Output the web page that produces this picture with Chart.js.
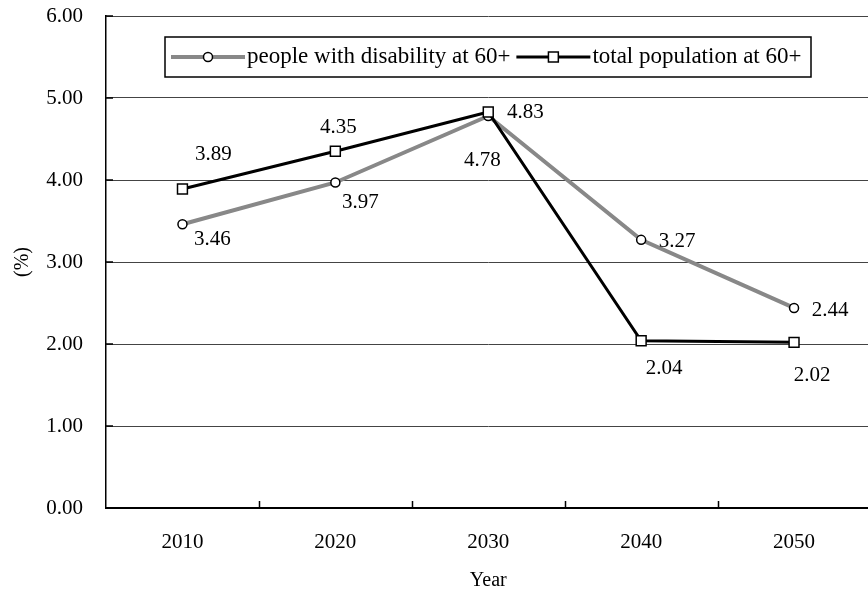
<!DOCTYPE html>
<html lang="en">
<head>
<meta charset="UTF-8">
<title>Growth rate of population aged 60+</title>
<script src="https://cdn.jsdelivr.net/npm/chart.js"></script>
<style>
    html, body { margin: 0; padding: 0; background: #fff; overflow: hidden; }
    #wrap { width: 879px; height: 591px; }
</style>
</head>
<body>
<div id="wrap"><canvas id="rateChart" width="879" height="591"></canvas></div>
<script>
const years = ['2010', '2020', '2030', '2040', '2050'];
const disabilityRates = [3.46, 3.97, 4.78, 3.27, 2.44];
const totalRates = [3.89, 4.35, 4.83, 2.04, 2.02];
const seriesNames = ['people with disability at 60+', 'total population at 60+'];
const yMin = 0, yMax = 6, yStep = 1;

const serif = '"Liberation Serif", "Times New Roman", serif';
Chart.defaults.font.family = serif;
Chart.defaults.font.size = 21;
Chart.defaults.color = '#000';

// small tick marks pointing into the plot area
const innerTicks = {
    id: 'innerTicks',
    beforeDatasetsDraw(chart) {
        const {ctx, chartArea: area, scales: {x, y}} = chart;
        ctx.save();
        ctx.strokeStyle = '#000';
        ctx.lineWidth = 1.5;
        ctx.beginPath();
        for (let i = 1; i < years.length; i++) {
            const px = Math.round((x.getPixelForValue(i - 1) + x.getPixelForValue(i)) / 2) + 0.5;
            ctx.moveTo(px, area.bottom);
            ctx.lineTo(px, area.bottom - 7);
        }
        y.ticks.forEach(t => {
            const py = y.getPixelForValue(t.value);
            ctx.moveTo(area.left, py);
            ctx.lineTo(area.left + 7, py);
        });
        ctx.stroke();
        ctx.restore();
    }
};

// value labels next to each point, offsets per point
const pointLabels = {
    id: 'pointLabels',
    afterDatasetsDraw(chart, args, opts) {
        const ctx = chart.ctx;
        ctx.save();
        ctx.font = `${opts.size}px ${serif}`;
        ctx.fillStyle = '#000';
        ctx.textAlign = 'center';
        ctx.textBaseline = 'middle';
        chart.data.datasets.forEach((ds, di) => {
            const meta = chart.getDatasetMeta(di);
            meta.data.forEach((pt, i) => {
                const [dx, dy] = opts.offsets[di][i];
                ctx.fillText(ds.data[i].toFixed(2), pt.x + dx, pt.y + dy);
            });
        });
        ctx.restore();
    }
};

// boxed legend sitting inside the plot area
const boxLegend = {
    id: 'boxLegend',
    afterDraw(chart, args, opts) {
        const {ctx, chartArea: area} = chart;
        const bx = area.left + opts.x, by = area.top + opts.y;
        ctx.save();
        ctx.fillStyle = '#fff';
        ctx.fillRect(bx, by, opts.width, opts.height);
        ctx.strokeStyle = '#000';
        ctx.lineWidth = 1.5;
        ctx.strokeRect(bx, by, opts.width, opts.height);
        ctx.font = `${opts.size}px ${serif}`;
        ctx.textBaseline = 'middle';
        const cy = by + opts.height / 2;
        let cx = bx + 6;
        chart.data.datasets.forEach(ds => {
            ctx.strokeStyle = ds.borderColor;
            ctx.lineWidth = ds.borderWidth;
            ctx.beginPath();
            ctx.moveTo(cx, cy);
            ctx.lineTo(cx + opts.sample, cy);
            ctx.stroke();
            ctx.fillStyle = ds.pointBackgroundColor;
            ctx.strokeStyle = ds.pointBorderColor;
            ctx.lineWidth = ds.pointBorderWidth;
            Chart.helpers.drawPoint(ctx, {
                pointStyle: ds.pointStyle, radius: ds.pointRadius,
                borderWidth: ds.pointBorderWidth, rotation: 0
            }, cx + opts.sample / 2, cy);
            ctx.fillStyle = '#000';
            ctx.fillText(ds.label, cx + opts.sample + 2, cy);
            cx += opts.sample + 2 + ctx.measureText(ds.label).width + 6;
        });
        ctx.restore();
    }
};

new Chart(document.getElementById('rateChart'), {
    type: 'line',
    data: {
        labels: years,
        datasets: [{
            label: seriesNames[0],
            data: disabilityRates,
            order: 1,
            borderColor: '#888',
            borderWidth: 4,
            tension: 0,
            fill: false,
            pointStyle: 'circle',
            pointRadius: 4.5,
            pointBorderWidth: 1.5,
            pointBorderColor: '#000',
            pointBackgroundColor: '#fff'
        }, {
            label: seriesNames[1],
            data: totalRates,
            order: 0,
            borderColor: '#000',
            borderWidth: 3,
            tension: 0,
            fill: false,
            pointStyle: 'rect',
            pointRadius: 7,
            pointBorderWidth: 1.5,
            pointBorderColor: '#000',
            pointBackgroundColor: '#fff'
        }]
    },
    options: {
        responsive: false,
        animation: false,
        layout: {padding: {top: 16, right: 0, bottom: 0, left: 0}},
        scales: {
            x: {
                offset: true,
                afterFit(scale) { scale.height = 83; },
                grid: {display: false, drawTicks: false},
                border: {display: true, color: '#000', width: 2},
                ticks: {padding: 22},
                title: {
                    display: true, text: 'Year',
                    font: {size: 20, lineHeight: 1},
                    padding: {top: 12, bottom: 0}
                }
            },
            y: {
                min: yMin,
                max: yMax,
                afterFit(scale) {
                    scale.width = 106;
                    scale.paddingTop = 0;
                    scale.paddingBottom = 0;
                },
                grid: {color: '#444', lineWidth: 1, drawTicks: false},
                border: {display: true, color: '#000', width: 1.5},
                ticks: {stepSize: yStep, padding: 23, callback: v => v.toFixed(2)},
                title: {
                    display: true, text: '(%)',
                    font: {size: 20},
                    padding: {top: 11, bottom: 0}
                }
            }
        },
        plugins: {
            legend: {display: false},
            tooltip: {enabled: false},
            pointLabels: {
                size: 21,
                offsets: [
                    [[30, 15], [25, 20], [-6, 44], [36, 2], [36, 3]],
                    [[31, -35], [3, -24], [37, 1], [23, 28], [18, 33]]
                ]
            },
            boxLegend: {x: 59, y: 21, width: 646, height: 40, sample: 74, size: 23}
        }
    },
    plugins: [innerTicks, pointLabels, boxLegend]
});
</script>
</body>
</html>
